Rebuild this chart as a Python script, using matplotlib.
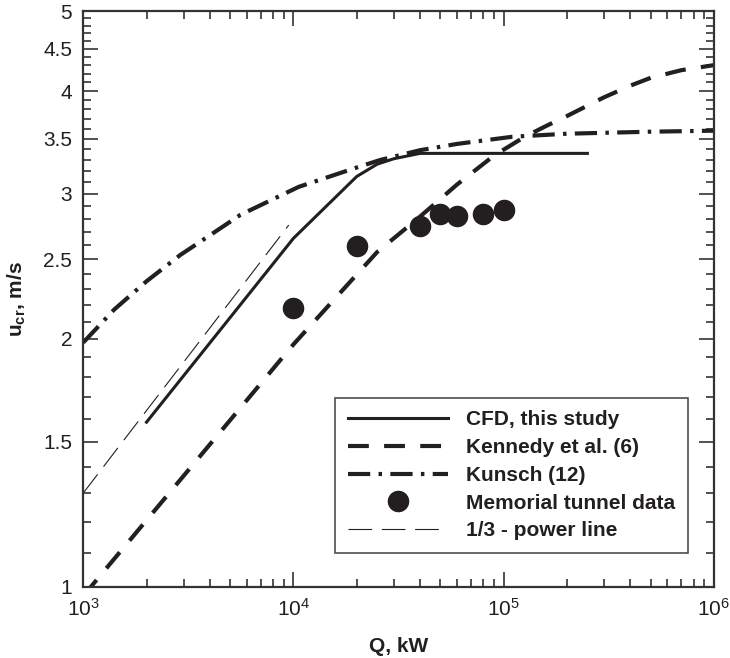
import matplotlib
matplotlib.use("Agg")
import matplotlib.pyplot as plt
from matplotlib.ticker import FixedLocator, FixedFormatter, LogLocator, NullFormatter

plt.rcParams['font.family'] = ['Liberation Sans', 'DejaVu Sans']
plt.rcParams['mathtext.fontset'] = 'custom'
plt.rcParams['mathtext.rm'] = 'Liberation Sans'
plt.rcParams['mathtext.bf'] = 'Liberation Sans:bold'
plt.rcParams['lines.scale_dashes'] = False

#### DATA ####

cfd_q = [2000, 10000, 20000, 25000, 30000, 40000, 250000]
cfd_u = [1.585, 2.65, 3.15, 3.26, 3.31, 3.36, 3.36]

kennedy_q = [1000, 10000, 25000, 39000, 60000, 90000, 126000, 160000, 200000,
             300000, 400000, 500000, 700000, 1000000]
kennedy_u = [0.975, 1.97, 2.55, 2.80, 3.08, 3.34, 3.52, 3.63, 3.73,
             3.93, 4.06, 4.15, 4.24, 4.30]

kunsch_q = [1000, 1400, 2000, 2900, 4160, 5600, 10600, 20000, 26000, 40000,
            60000, 110000, 200000, 500000, 1000000]
kunsch_u = [1.98, 2.17, 2.35, 2.53, 2.69, 2.83, 3.06, 3.23, 3.30, 3.39,
            3.45, 3.52, 3.55, 3.57, 3.58]

memorial_q = [10000, 20000, 40000, 50000, 60000, 80000, 100000]
memorial_u = [2.18, 2.59, 2.74, 2.84, 2.82, 2.84, 2.87]

power_q = [1000, 9500]
power_u = [1.30, 2.75]

yticks = [1, 1.5, 2, 2.5, 3, 3.5, 4, 4.5, 5]
ytick_labels = ["1", "1.5", "2", "2.5", "3", "3.5", "4", "4.5", "5"]

#### PLOT ####

ink = '#231f20'
fig = plt.figure(figsize=(7.3, 6.58), dpi=100)
ax = fig.add_axes([0.114, 0.108, 0.864, 0.875])

ax.plot(cfd_q, cfd_u, color=ink, lw=2.2, label="CFD, this study")
ax.plot(kennedy_q, kennedy_u, color=ink, lw=3.0, dashes=(15, 11),
        label="Kennedy et al. (6)")
ax.plot(kunsch_q, kunsch_u, color=ink, lw=3.0, dashes=(16, 6, 2.5, 6),
        label="Kunsch (12)")
ax.plot(memorial_q, memorial_u, 'o', color=ink, ms=14.5, label="Memorial tunnel data")
ax.plot(power_q, power_u, color=ink, lw=0.8, dashes=(17, 7),
        label="1/3 - power line")

ax.set_xscale('log')
ax.set_yscale('log')
ax.set_xlim(1e3, 1e6)
ax.set_ylim(1, 5)

ax.xaxis.set_major_locator(LogLocator(base=10, numticks=10))
ax.xaxis.set_minor_locator(LogLocator(base=10, subs=range(2, 10), numticks=20))
ax.xaxis.set_minor_formatter(NullFormatter())

ax.yaxis.set_major_locator(FixedLocator(yticks))
ax.yaxis.set_major_formatter(FixedFormatter(ytick_labels))
ax.yaxis.set_minor_locator(FixedLocator([round(1 + 0.1 * i, 1) for i in range(41)]))
ax.yaxis.set_minor_formatter(NullFormatter())

ax.tick_params(which='both', direction='in', top=True, right=True,
               color='#333333', labelsize=15, labelcolor=ink)
ax.tick_params(which='major', length=11, width=1.2, pad=8)
ax.tick_params(which='minor', length=6, width=1.2)
for s in ax.spines.values():
    s.set_linewidth(1.6)
    s.set_color('#333333')

ax.set_xlabel("Q, kW", fontsize=15, fontweight='bold', color=ink, labelpad=12)
ax.set_ylabel(r"$\mathbf{u_{cr}}$, m/s", fontsize=15, fontweight='bold',
              color=ink, labelpad=11)

leg = ax.legend(loc='lower right', bbox_to_anchor=(0.959, 0.059), borderaxespad=0,
                fontsize=15, handlelength=4.8, frameon=True, fancybox=False,
                borderpad=0.6, labelspacing=0.42, handletextpad=0.9)
leg.get_frame().set_edgecolor(ink)
leg.get_frame().set_linewidth(1.2)
for t in leg.get_texts():
    t.set_fontweight('bold')
    t.set_color(ink)

plt.savefig("out.png", dpi=100)
